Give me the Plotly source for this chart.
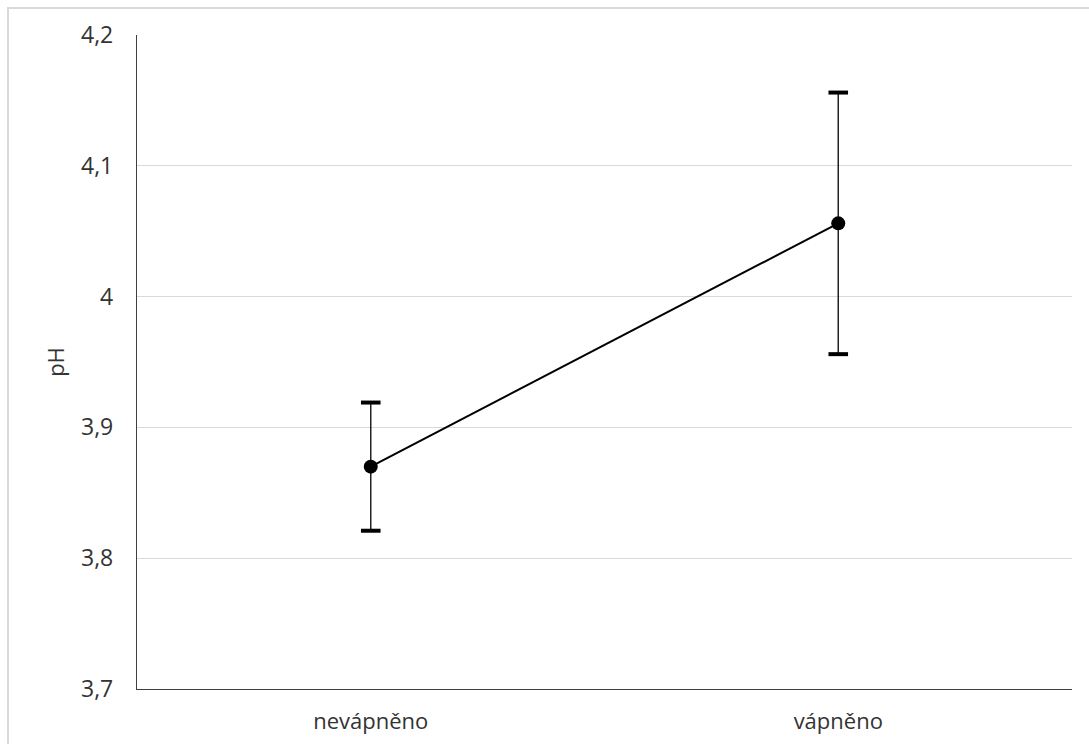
import plotly.graph_objects as go

categories = ["nevápněno", "vápněno"]
ph_mean = [3.870, 4.056]
ph_err = [0.049, 0.100]
y_ticks = [3.7, 3.8, 3.9, 4.0, 4.1, 4.2]
y_tick_labels = ["3,7", "3,8", "3,9", "4", "4,1", "4,2"]

font_family = "Open Sans, Noto Sans, DejaVu Sans, sans-serif"

fig = go.Figure()
fig.add_trace(go.Scatter(
    x=categories, y=ph_mean, mode="lines+markers",
    line=dict(color="black", width=2),
    marker=dict(color="black", size=14),
    error_y=dict(type="data", array=ph_err, visible=True, color="#222222", thickness=1.5, width=0),
    showlegend=False, hoverinfo="skip",
))
# caps
cap_x = categories + categories
cap_y = [m + e for m, e in zip(ph_mean, ph_err)] + [m - e for m, e in zip(ph_mean, ph_err)]
fig.add_trace(go.Scatter(
    x=cap_x, y=cap_y, mode="markers",
    marker=dict(symbol="line-ew", size=14, line=dict(color="black", width=4)),
    showlegend=False, hoverinfo="skip",
))

fig.update_layout(
    width=1089, height=744,
    margin=dict(l=137, r=17, t=35, b=55, autoexpand=False),
    paper_bgcolor="white", plot_bgcolor="white",
    font=dict(family=font_family, size=22, color="#333333"),
    xaxis=dict(
        type="category", range=[-0.5, 1.5], automargin=False,
        showline=True, linecolor="#404040", linewidth=1.3,
        showgrid=False, ticks="", ticklabelstandoff=12,
        tickfont=dict(size=22, color="#333333"),
    ),
    yaxis=dict(
        range=[3.7, 4.2], tickvals=y_ticks, ticktext=y_tick_labels, automargin=False,
        showline=True, linecolor="#404040", linewidth=1.3,
        showgrid=True, gridcolor="#d9d9d9", gridwidth=1,
        zeroline=False, ticks="", ticklabelstandoff=18,
        tickfont=dict(size=23, color="#333333"),
        title=dict(text="pH", standoff=10, font=dict(size=22, color="#333333")),
    ),
    shapes=[dict(
        type="rect", xref="paper", yref="paper",
        x0=(8 - 137) / 935, x1=1.2, y0=-0.3, y1=1 + (35 - 8) / 654,
        line=dict(color="#d9d9d9", width=2), fillcolor="rgba(0,0,0,0)", layer="below",
    )],
)

fig.write_html("out.html")
